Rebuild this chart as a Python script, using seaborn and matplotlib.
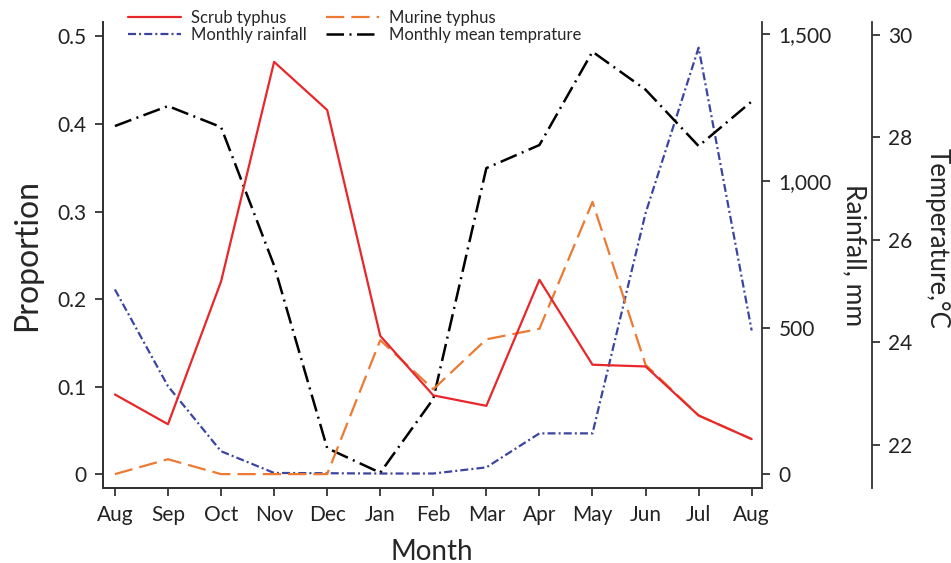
import numpy as np
import pandas as pd
import seaborn as sns
import matplotlib.pyplot as plt
from matplotlib.ticker import FuncFormatter

# month axis (13 points, Aug to Aug)
months = ["Aug", "Sep", "Oct", "Nov", "Dec", "Jan", "Feb", "Mar", "Apr", "May", "Jun", "Jul", "Aug"]

# proportions of cases
scrub_typhus = [0.091, 0.057, 0.220, 0.471, 0.416, 0.158, 0.090, 0.078, 0.222, 0.125, 0.123, 0.067, 0.040]
murine_typhus = [0.0, 0.017, 0.0, 0.0, 0.0, 0.153, 0.097, 0.154, 0.166, 0.311, 0.125, 0.067, 0.040]

# monthly rainfall, mm
rainfall = [630, 300, 78, 4, 3, 2, 2, 23, 139, 139, 890, 1455, 490]

# monthly mean temperature, deg C
temperature = [28.22, 28.61, 28.20, 25.50, 21.94, 21.46, 22.90, 27.40, 27.85, 29.67, 28.93, 27.83, 28.70]

sns.set_style("ticks")
plt.rcParams['font.family'] = ['Lato', 'DejaVu Sans']

df = pd.DataFrame({
    "idx": np.arange(len(months)),
    "scrub": scrub_typhus,
    "murine": murine_typhus,
    "rain": rainfall,
    "temp": temperature,
})

fig = plt.figure(figsize=(9.51, 5.63), dpi=100)
ax = fig.add_axes([0.108, 0.133, 0.693, 0.828])
ax_rain = ax.twinx()
ax_temp = ax.twinx()

lw = 1.6
red = "#e8272b"
orange = "#ec7a32"
blue = "#3b44a0"

sns.lineplot(data=df, x="idx", y="murine", ax=ax, color=orange, lw=lw,
             linestyle=(0, (8.2, 3.2)), label="Murine typhus", legend=False)
sns.lineplot(data=df, x="idx", y="scrub", ax=ax, color=red, lw=lw,
             label="Scrub typhus", legend=False)
sns.lineplot(data=df, x="idx", y="rain", ax=ax_rain, color=blue, lw=lw,
             linestyle=(0, (3.6, 1.4, 0.9, 1.4)), label="Monthly rainfall", legend=False)
sns.lineplot(data=df, x="idx", y="temp", ax=ax_temp, color="black", lw=lw + 0.2,
             linestyle=(0, (7.0, 2.2, 0.8, 2.2)), label="Monthly mean temprature", legend=False)

# case proportions drawn above the weather lines
ax.set_zorder(3)
ax.patch.set_visible(False)

ax.set_xlim(-0.23, 12.19)
ax.set_ylim(-0.016, 0.5166)
ax_rain.set_ylim(-47.8, 1542.7)
ax_temp.set_ylim(21.16, 30.25)

ax.set_xticks(range(len(months)))
ax.set_xticklabels(months)
ax.set_yticks([0, 0.1, 0.2, 0.3, 0.4, 0.5])
ax.yaxis.set_major_formatter(FuncFormatter(lambda v, p: "0" if abs(v) < 1e-9 else f"{v:.1f}"))
ax_rain.set_yticks([0, 500, 1000, 1500])
ax_rain.yaxis.set_major_formatter(FuncFormatter(lambda v, p: f"{int(v):,}"))
ax_temp.set_yticks([22, 24, 26, 28, 30])

for a in (ax, ax_rain, ax_temp):
    a.spines["top"].set_visible(False)
    a.tick_params(labelsize=15, length=6, width=1.2, pad=6, direction="out", colors="#222222")
    for s in a.spines.values():
        s.set_linewidth(1.3)
        s.set_color("#333333")
ax.spines["right"].set_visible(False)
ax_temp.spines["right"].set_position(("axes", 1.167))

ax.set_xlabel("Month", fontsize=20, labelpad=10)
ax.set_ylabel("Proportion", fontsize=23, labelpad=11)
ax_rain.set_ylabel("Rainfall, mm", fontsize=19, rotation=270, labelpad=25)
ax_temp.set_ylabel("Temperature,\u00b0C", fontsize=18.5, rotation=270, labelpad=26)
ax_temp.yaxis.set_label_coords(1.285, 0.535)

handles = [ax.lines[1], ax_rain.lines[0], ax.lines[0], ax_temp.lines[0]]
labels = ["Scrub typhus", "Monthly rainfall", "Murine typhus", "Monthly mean temprature"]
fig.legend(handles, labels, ncol=2, frameon=False, fontsize=12,
           loc="upper left", bbox_to_anchor=(0.126, 0.997), borderpad=0,
           handlelength=3.2, handletextpad=0.6, columnspacing=1.1, labelspacing=0.05)

plt.savefig("out.png", dpi=100)
